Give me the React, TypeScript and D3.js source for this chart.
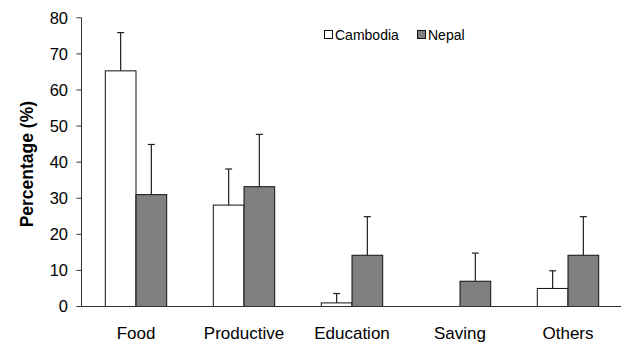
import React from "react";
import * as d3 from "d3";

const categories = ["Food", "Productive", "Education", "Saving", "Others"];
const seriesNames = ["Cambodia", "Nepal"];
const cambodiaValues = [65.3, 28.1, 1.0, 0, 5.0];
const cambodiaErrors = [10.6, 10.0, 2.6, 0, 4.9];
const nepalValues = [31.0, 33.2, 14.2, 7.0, 14.2];
const nepalErrors = [13.9, 14.5, 10.7, 7.8, 10.7];
const yTicks = [0, 10, 20, 30, 40, 50, 60, 70, 80];
const seriesFills = ["#ffffff", "#808080"];

const W = 621;
const H = 342;
const FONT = "'Liberation Sans', Arial, sans-serif";

export default function App() {
  const y = d3.scaleLinear().domain([0, 80]).range([306.5, 17.8]);
  const x = d3.scaleBand<string>().domain(categories).range([82, 622]).padding(0);
  const xs = d3
    .scaleBand<string>()
    .domain(seriesNames)
    .range([0, x.bandwidth()])
    .paddingInner(0)
    .paddingOuter(0.759);

  const values = [cambodiaValues, nepalValues];
  const errors = [cambodiaErrors, nepalErrors];
  const axisX = 81.5;

  return (
    <svg
      width={W}
      height={H}
      style={{ position: "absolute", left: 0, top: 0, background: "#fff" }}
      fontFamily={FONT}
    >
      {/* y axis */}
      <line x1={axisX} x2={axisX} y1={y(80)} y2={y(0)} stroke="#333" strokeWidth={1} />
      {yTicks.map((t) => (
        <g key={t}>
          <line x1={76.5} x2={axisX} y1={y(t)} y2={y(t)} stroke="#333" strokeWidth={1} />
          <text x={68} y={y(t)} dy="0.36em" textAnchor="end" fontSize={16.5} fill="#000">
            {t}
          </text>
        </g>
      ))}
      <text
        transform={`translate(33,${(y(0) + y(80)) / 2 + 2}) rotate(-90)`}
        textAnchor="middle"
        fontSize={17.5}
        fontWeight="bold"
        fill="#000"
      >
        Percentage (%)
      </text>

      {/* bars */}
      {seriesNames.map((s, si) =>
        categories.map((c, ci) => {
          const v = values[si][ci];
          const e = errors[si][ci];
          const bx = (x(c) as number) + (xs(s) as number);
          const bw = xs.bandwidth();
          if (v <= 0) return null;
          const cx = bx + bw / 2;
          return (
            <g key={s + c}>
              <line x1={cx} x2={cx} y1={y(v)} y2={y(v + e)} stroke="#222" strokeWidth={1.2} />
              <line x1={cx - 3.5} x2={cx + 3.5} y1={y(v + e)} y2={y(v + e)} stroke="#222" strokeWidth={1.2} />
              <rect
                x={bx}
                y={y(v)}
                width={bw}
                height={y(0) - y(v)}
                fill={seriesFills[si]}
                stroke="#111"
                strokeWidth={1}
              />
            </g>
          );
        })
      )}

      {/* x axis */}
      <line x1={axisX} x2={621} y1={y(0)} y2={y(0)} stroke="#333" strokeWidth={1} />
      {categories.map((c) => (
        <text
          key={c}
          x={(x(c) as number) + x.bandwidth() / 2}
          y={339}
          textAnchor="middle"
          fontSize={17}
          fill="#000"
        >
          {c}
        </text>
      ))}

      {/* legend */}
      {seriesNames.map((s, si) => {
        const lx = si === 0 ? 324 : 417;
        return (
          <g key={s}>
            <rect x={lx + 0.5} y={30.5} width={8} height={8} fill={seriesFills[si]} stroke="#111" strokeWidth={1} />
            <text x={lx + 11} y={39.5} fontSize={14} fill="#000">
              {s}
            </text>
          </g>
        );
      })}
    </svg>
  );
}
